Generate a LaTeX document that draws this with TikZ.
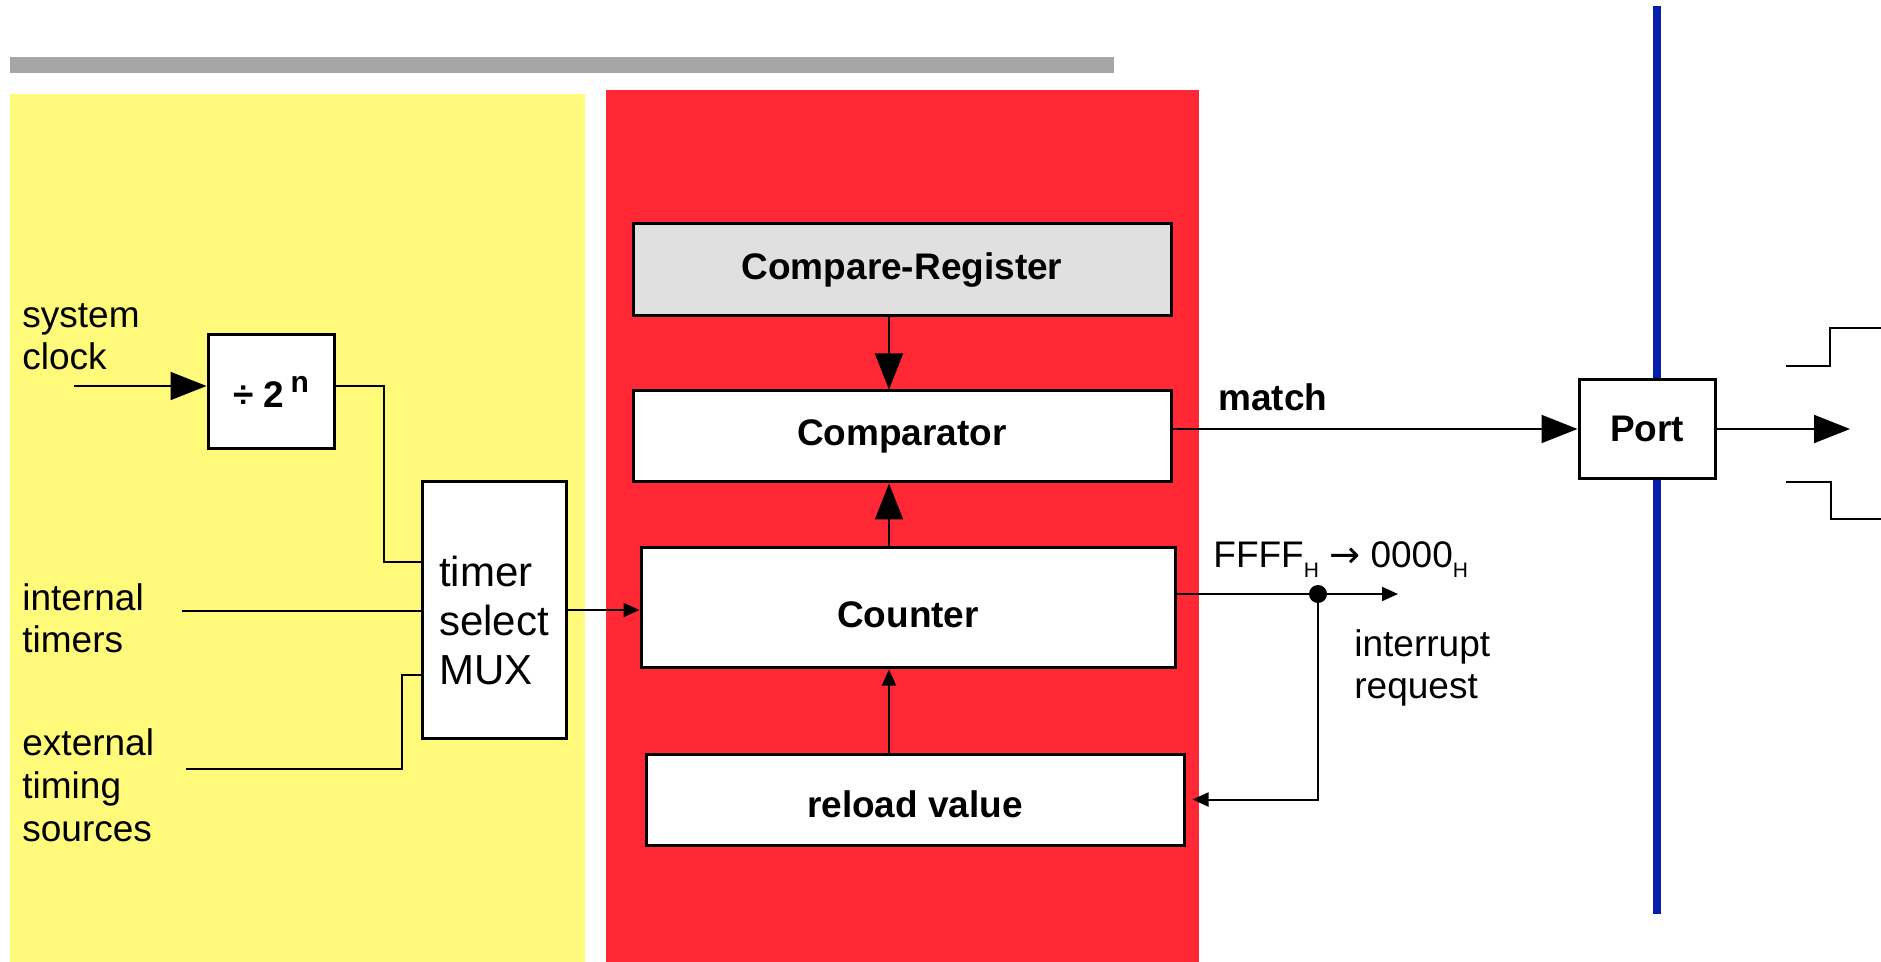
\documentclass[tikz,border=0pt]{standalone}
\usepackage{fontspec}
\setmainfont{Liberation Sans}
\newfontfamily\symfont{DejaVu Sans}
\usetikzlibrary{arrows.meta}

\definecolor{panelyellow}{RGB}{255,250,122}
\definecolor{panelred}{RGB}{255,40,52}
\definecolor{regfill}{RGB}{224,224,224}
\definecolor{portblue}{RGB}{8,30,170}
\definecolor{bargray}{RGB}{166,166,166}

\newcommand\basefont{\fontsize{18.5}{21}\selectfont}
\newcommand\subH{\raisebox{-5pt}{\fontsize{10.5}{11}\selectfont H}}

\tikzset{
  blk/.style={draw, line width=1.5pt, fill=white, inner sep=0pt, font=\basefont\bfseries},
  lbl/.style={anchor=west, align=left, inner sep=0pt, font=\basefont},
  wire/.style={line width=1pt},
  bigarr/.style={wire, -{Triangle[length=18pt,width=14pt]}},
  smallarr/.style={wire, -{Triangle[length=8pt,width=7pt]}},
}

\begin{document}
\begin{tikzpicture}[x=0.5pt,y=-0.5pt]
  \useasboundingbox (0,0) rectangle (1881,962);
  \fill[bargray] (10,57) rectangle (1114,73);
  \fill[panelyellow] (10,94) rectangle (585,962);
  \fill[panelred] (606,90) rectangle (1199,962);
  \draw[portblue, line width=4pt] (1657,6) -- (1657,914);

  \node[blk, minimum width=63pt, minimum height=57pt] (div) at (271,392)
    {÷ 2\,\raisebox{0.42em}{\fontsize{15}{15}\selectfont n}};
  \node[blk, minimum width=72pt, minimum height=128pt] (mux) at (494,610) {};
  \node[align=left, inner sep=0pt, font=\fontsize{21}{24.5}\selectfont] (muxtxt)
    at ([yshift=-5pt]mux.center) {timer\\select\\MUX};
  \node[blk, fill=regfill, minimum width=269pt, minimum height=46pt] (creg) at (902,270) {Compare-Register};
  \node[blk, minimum width=269pt, minimum height=45.5pt] (comp) at (902,436.5) {Comparator};
  \node[blk, minimum width=267pt, minimum height=60pt, text height=20pt, text depth=0pt] (cnt) at (908,608) {Counter};
  \node[blk, minimum width=269pt, minimum height=45.5pt, text height=18pt, text depth=0pt] (rld) at (915,799.5) {reload value};
  \node[blk, minimum width=68pt, minimum height=49.5pt] (port) at (1647,429) {Port};

  \node[lbl] (sclklbl) at (22,337) {system\\clock};
  \node[lbl] (itimlbl) at (22,618) {internal\\timers};
  \node[lbl, font=\fontsize{18.5}{21.5}\selectfont] (etimlbl) at (22,785) {external\\timing\\sources};
  \node[lbl, font=\basefont\bfseries] (matchlbl) at (1218,397) {match};
  \node[lbl] (ovflbl) at (1213,560) {FFFF\subH{} {\symfont →} 0000\subH};
  \node[lbl] (irqlbl) at (1354,668) {interrupt\\request};

  \coordinate (sclk) at (74,386);
  \coordinate (itim) at (182,611);
  \coordinate (etim) at (186,769);
  \coordinate (vx) at (889,0);
  \coordinate (tap) at (1318,594);
  \coordinate (irq) at (1398,594);
  \coordinate (pout) at (1850,429);

  \draw[bigarr] (sclk) -- (sclk -| div.west);
  \draw[wire] (div.east |- sclk) -- ++(48,0) |- ([shift={(0,-48)}]mux.west);
  \draw[wire] (itim) -- (itim -| mux.west);
  \draw[wire] (etim) -| ([shift={(-19,65)}]mux.west) -- ([shift={(0,65)}]mux.west);
  \draw[smallarr] (mux.east) -- (mux.east -| cnt.west);
  \draw[bigarr] (creg.south -| vx) -- (comp.north -| vx);
  \draw[bigarr] (cnt.north -| vx) -- (comp.south -| vx);
  \draw[smallarr] (rld.north -| vx) -- (cnt.south -| vx);
  \draw[bigarr] (comp.east |- port.west) -- (port.west);
  \draw[bigarr] (port.east) -- (pout);
  \draw[smallarr] (cnt.east |- tap) -- (irq);
  \fill (tap) circle[radius=4.5pt];
  \draw[smallarr] (tap) |- ([xshift=3.5pt]rld.east);

  \draw[wire] (1786,366) -- (1830,366) -- (1830,328) -- (1881,328);
  \draw[wire] (1786,482) -- (1831,482) -- (1831,519) -- (1881,519);
\end{tikzpicture}
\end{document}
